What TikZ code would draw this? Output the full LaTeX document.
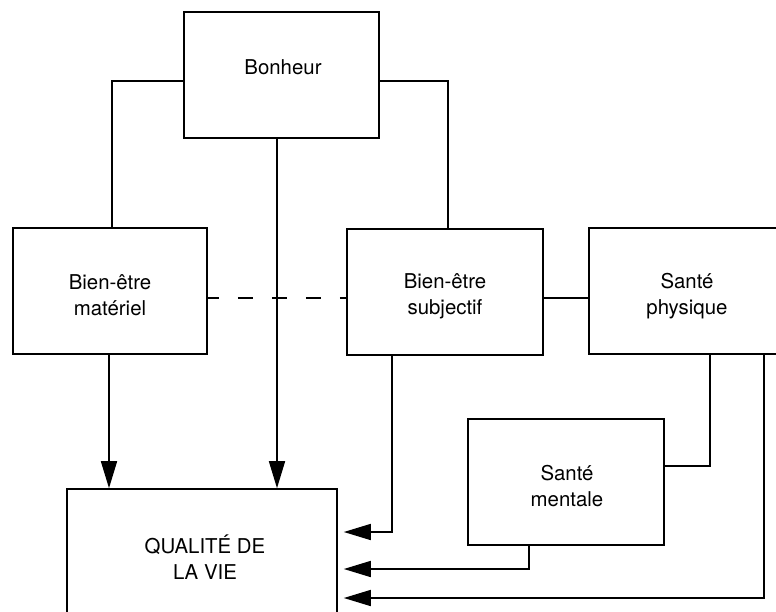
\documentclass[tikz,border=0pt]{standalone}
\usepackage{fontspec}
\setmainfont{TeX Gyre Heros}
\usetikzlibrary{arrows.meta}
\begin{document}
\begin{tikzpicture}[x=0.5pt,y=-0.5pt,
  box/.style={draw, line width=0.8pt, inner sep=0pt, minimum width=98pt, minimum height=63pt},
  lbl/.style={align=center, inner sep=0pt, font=\fontsize{10.2}{13}\selectfont},
  ln/.style={line width=0.8pt},
  arr/.style={line width=0.8pt, -{Triangle[length=13.5pt,width=8pt]}},
  dsh/.style={line width=0.8pt, dash pattern=on 7.5pt off 9.5pt, dash phase=2pt}]
\useasboundingbox (0,0) rectangle (776,611);
\clip (0,0) rectangle (776,611);
\fill[white] (0,0) rectangle (776,611);
% boxes
\node[box, minimum width=97.5pt] (bon) at (281.5,75) {};
\node[box, minimum width=97pt] (mat) at (110,291) {};
\node[box] (sub) at (445,292) {};
\node[box] (phy) at (687,291) {};
\node[box] (men) at (566,482) {};
\node[box, minimum width=135pt, minimum height=68pt] (qua) at (202,557) {};
% labels
\node[lbl] (tbon) at (283,67) {Bonheur};
\node[lbl] (tmat) at (110,295) {Bien-être\\matériel};
\node[lbl] (tsub) at (445,296) {Bien-être\\subjectif};
\node[lbl] (tphy) at (687,296) {Santé\\physique};
\node[lbl] (tmen) at (567,486) {Santé\\mentale};
\node[lbl] (tqua) at (205,557) {QUALITÉ DE\\LA VIE};
% connectors
\draw[ln] ([yshift=-3pt]bon.west) -| ([xshift=1pt]mat.north);
\draw[ln] ([yshift=-3pt]bon.east) -| ([xshift=1.5pt]sub.north);
\draw[arr] ([xshift=-2.25pt]bon.south) -- ([xshift=-2.25pt]bon.south |- qua.north);
\draw[arr] ([xshift=-0.5pt]mat.south) -- ([xshift=-0.5pt]mat.south |- qua.north);
\draw[dsh] ([yshift=-3.5pt]mat.east) -- ([yshift=-3pt]sub.west);
\draw[ln] ([yshift=-3pt]sub.east) -- ([yshift=-3.5pt]phy.west);
\draw[arr, shorten >=3pt] ([xshift=-26.5pt]sub.south) |- ([yshift=12.5pt]qua.east);
\draw[ln] ([yshift=8pt]men.east) -| ([xshift=11.5pt]phy.south);
\draw[arr, shorten >=3pt] ([xshift=-18.5pt]men.south) |- ([yshift=-6pt]qua.east);
\draw[arr, shorten >=3pt] ([xshift=38.5pt]phy.south) |- ([yshift=-20.5pt]qua.east);
\end{tikzpicture}
\end{document}
